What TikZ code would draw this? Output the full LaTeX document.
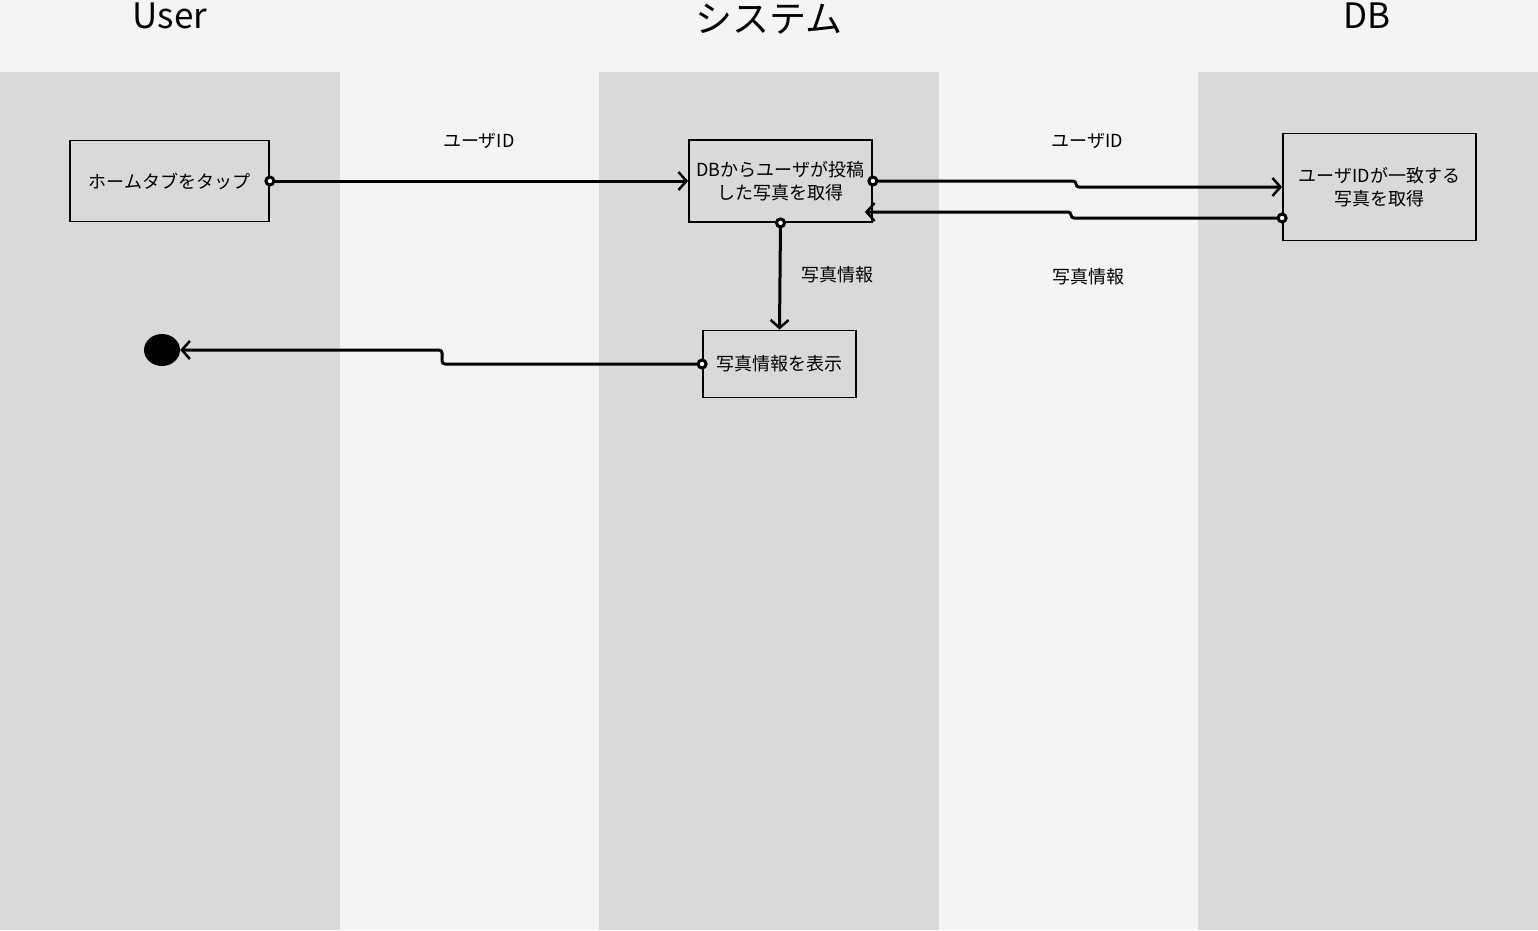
\documentclass[tikz,border=0pt]{standalone}
\usepackage{fontspec}
\setmainfont{Noto Sans CJK JP}
\usetikzlibrary{arrows.meta,shapes.geometric}
\definecolor{bgc}{HTML}{F4F4F4}
\definecolor{lanec}{HTML}{D9D9D9}
\begin{document}
\begin{tikzpicture}[x=1pt,y=-1pt,
  lane/.style={fill=lanec, draw=none},
  header/.style={font=\fontsize{35}{38}\selectfont, inner sep=0, anchor=base},
  box/.style={draw=black, line width=1.8pt, fill=lanec, align=center, inner sep=0,
    font=\fontsize{18}{23}\selectfont},
  lbl/.style={font=\fontsize{18}{20}\selectfont, inner sep=0},
  flow/.style={line width=3pt, rounded corners=3pt, shorten <=-5.5pt,
    {Circle[length=11pt,width=11pt,fill=white]}-{Straight Barb[length=8pt,width=18pt,line width=2.5pt]}},
  endnode/.style={ellipse, fill=black, minimum width=36pt, minimum height=32pt, inner sep=0}
]
\useasboundingbox (0,0) rectangle (1538,930);
\fill[bgc] (0,0) rectangle (1538,930);
\fill[lane] (0,72) rectangle (340,930);
\fill[lane] (599,72) rectangle (939,930);
\fill[lane] (1198,72) rectangle (1538,930);

\node[header] (hUser) at (170,28.5) {User};
\node[header, font=\fontsize{37}{40}\selectfont] (hSys) at (769,32) {システム};
\node[header] (hDB) at (1367,28.5) {DB};

\node[box, minimum width=199pt, minimum height=81pt] (b1) at (169.5,181) {ホームタブをタップ};
\node[box, minimum width=183pt, minimum height=82pt] (b2) at (780.5,181) {DBからユーザが投稿\\した写真を取得};
\node[box, minimum width=193pt, minimum height=107pt] (b3) at (1379.5,187) {ユーザIDが一致する\\写真を取得};
\node[box, minimum width=153pt, minimum height=67pt] (b4) at (779.5,364) {写真情報を表示};
\node[endnode] (endc) at (162,350) {};

\node[lbl] (l1) at (479,141) {ユーザID};
\node[lbl] (l2) at (1087,141) {ユーザID};
\node[lbl] (l3) at (837,275) {写真情報};
\node[lbl] (l4) at (1088,277) {写真情報};

\draw[flow] (b1.east) -- (b2.west);
\draw[flow] (b2.east) -- (1076,181) -- (1076,187) -- (b3.west);
\draw[flow, shorten >=-8pt] (b3.west |- 0,218) -- (1071,218) -- (1071,212) -- (b2.east |- 0,212);
\draw[flow] (b2.south) -- (b4.north);
\draw[flow] (b4.west) -- (442,364) -- (442,350) -- (endc.east);
\end{tikzpicture}
\end{document}
